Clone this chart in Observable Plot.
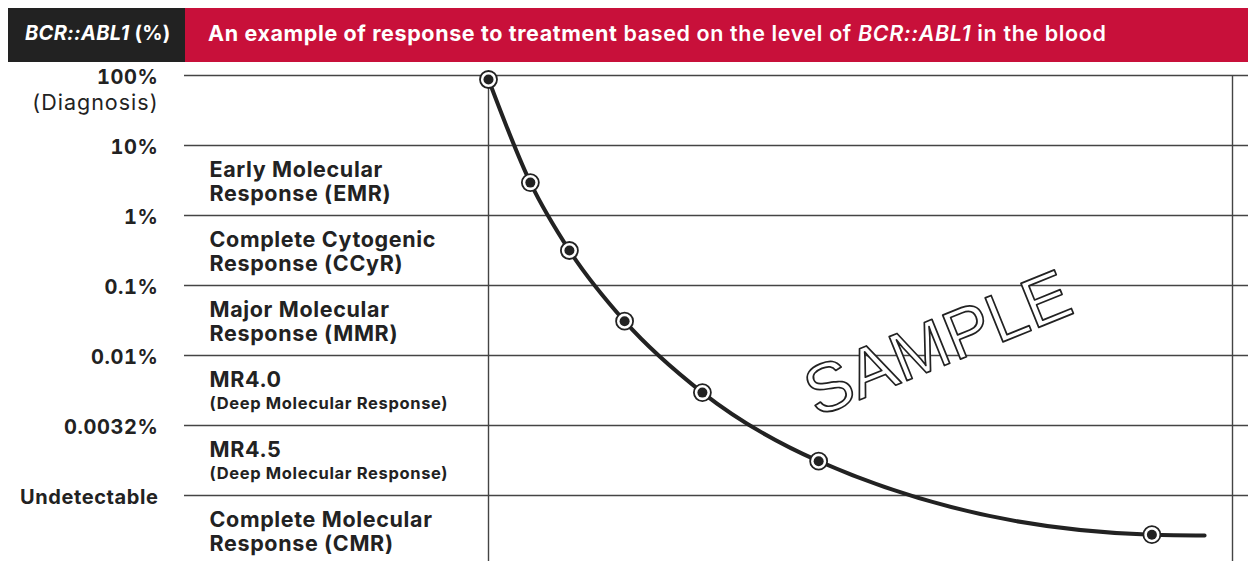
<!DOCTYPE html>
<html>
<head>
<meta charset="utf-8">
<script src="https://cdn.jsdelivr.net/npm/d3@7"></script>
<script src="https://cdn.jsdelivr.net/npm/@observablehq/plot@0.6"></script>
<style>
  html, body { margin: 0; padding: 0; background: #fff; }
  body { width: 1248px; height: 561px; overflow: hidden; font-family: "Inter", "DejaVu Sans", sans-serif; }
  .header { position: relative; height: 62px; }
  .hdr-left { position: absolute; left: 8px; top: 8px; width: 177px; height: 54px; background: #222222; color: #fff;
    font-weight: 700; font-size: 20px; letter-spacing: 0.3px; line-height: 51px; box-sizing: border-box; padding-left: 17px; white-space: nowrap; }
  .hdr-left .pc { margin-left: 5px; }
  .hdr-right { position: absolute; left: 185px; top: 8px; right: 0; height: 54px; background: #C8103A; color: #fff;
    font-size: 21.5px; letter-spacing: 0.62px; line-height: 51px; padding-left: 23px; white-space: nowrap; }
  .b { font-weight: 700; }
  .sb { font-weight: 600; }
  .it { font-style: italic; }
  #chart svg { display: block; }
  #chart g[aria-label="y-axis tick label"] text { letter-spacing: 0.6px; }
  #chart [aria-label="diagnosis note"] { letter-spacing: 1px; }
  #chart [aria-label="band title"] { letter-spacing: 0.65px; }
  #chart [aria-label="band note"] { letter-spacing: 0.65px; }
</style>
</head>
<body>
<div class="header">
  <div class="hdr-left"><span class="it">BCR::ABL1</span><span class="pc">(%)</span></div>
  <div class="hdr-right"><span class="b">An example of response to treatment</span><span class="sb"> based on the level of <span class="it">BCR::ABL1</span> in the blood</span></div>
</div>
<div id="chart"></div>
<script>
// Response levels (top line = index 0)
const levelLabels = ["100%", "10%", "1%", "0.1%", "0.01%", "0.0032%", "Undetectable"];
const levelIndex = [0, 1, 2, 3, 4, 5, 6];
const diagnosisNote = ["(Diagnosis)"];

// Response bands (band top = level index)
const bandTop = [1, 2, 3, 4, 5, 6];
const bandTitle = [
  "Early Molecular\nResponse (EMR)",
  "Complete Cytogenic\nResponse (CCyR)",
  "Major Molecular\nResponse (MMR)",
  "MR4.0",
  "MR4.5",
  "Complete Molecular\nResponse (CMR)"
];
const bandNoteTop = [4, 5];
const bandNote = ["(Deep Molecular Response)", "(Deep Molecular Response)"];

// Example patient: time (arbitrary months) and level (in level-index units)
const sampleTime = [0, 1.35, 2.61, 4.39, 6.9, 10.65, 21.4];
const sampleLevel = [0.057, 1.53, 2.5, 3.51, 4.53, 5.51, 6.56];
const curveEndTime = [23.1];
const curveEndLevel = [6.57];

// Vertical reference lines (start of treatment, end of observation)
const timeMarks = [0, 24];

const points = sampleTime.map((t, i) => ({t, v: sampleLevel[i]}));
const curve = points.concat(curveEndTime.map((t, i) => ({t, v: curveEndLevel[i]})));

const ink = "#222222";
const lineColor = "#444444";

const chart = Plot.plot({
  width: 1248,
  height: 499,
  marginTop: 13,
  marginBottom: 0,
  marginLeft: 184,
  marginRight: 0,
  style: {fontFamily: "Inter, 'DejaVu Sans', sans-serif", color: ink, background: "#fff"},
  x: {domain: [-304 / 31, 760 / 31], axis: null},
  y: {domain: [0, 486 / 70], reverse: true, axis: null},
  marks: [
    Plot.ruleY(levelIndex, {stroke: lineColor, strokeWidth: 1.4}),
    Plot.ruleX(timeMarks, {stroke: lineColor, strokeWidth: 1.4}),
    Plot.axisY(levelIndex, {
      tickFormat: i => levelLabels[i], tickSize: 0, tickPadding: 26, dy: 2,
      fontSize: 20, fontWeight: 700, fill: ink, label: null
    }),
    Plot.text(diagnosisNote, {
      ariaLabel: () => "diagnosis note",
      y: () => 0, text: d => d, frameAnchor: "left", dx: -26, dy: 28, textAnchor: "end",
      fontSize: 21.5, fontWeight: 400, fill: ink
    }),
    Plot.text(bandTitle, {
      ariaLabel: () => "band title",
      y: (d, i) => bandTop[i], text: d => d, frameAnchor: "left", dx: 25, dy: 14,
      textAnchor: "start", lineAnchor: "top", lineHeight: 24 / 21.5,
      fontSize: 21.5, fontWeight: 700, fill: ink
    }),
    Plot.text(bandNote, {
      ariaLabel: () => "band note",
      y: (d, i) => bandNoteTop[i], text: d => d, frameAnchor: "left", dx: 25, dy: 48,
      textAnchor: "start", lineAnchor: "middle", fontSize: 16.5, fontWeight: 700, fill: ink
    }),
    Plot.text(["SAMPLE"], {
      x: () => 14.5, y: () => 3.84, text: d => d, rotate: -22,
      fontFamily: "'Liberation Sans', Arial, sans-serif", fontSize: 69, fontWeight: 400,
      fill: "#fff", stroke: ink, strokeWidth: 1.7, paintOrder: "fill"
    }),
    Plot.line(curve, {x: "t", y: "v", curve: "monotone-x", stroke: ink, strokeWidth: 4}),
    Plot.dot(points, {x: "t", y: "v", r: 8.5, fill: "#fff", stroke: ink, strokeWidth: 1.8}),
    Plot.dot(points, {x: "t", y: "v", r: 5, fill: ink, stroke: null})
  ]
});
document.getElementById("chart").appendChild(chart);
</script>
</body>
</html>
